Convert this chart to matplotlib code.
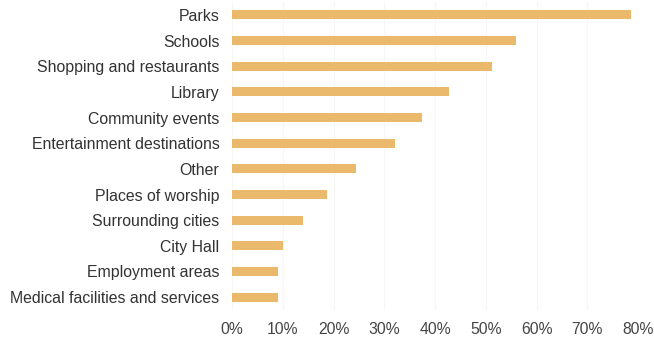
import matplotlib
matplotlib.use("Agg")
import matplotlib.pyplot as plt
from matplotlib.ticker import FuncFormatter

categories = [
    "Parks", "Schools", "Shopping and restaurants", "Library",
    "Community events", "Entertainment destinations", "Other",
    "Places of worship", "Surrounding cities", "City Hall",
    "Employment areas", "Medical facilities and services",
]
shares = [78.7, 55.9, 51.2, 42.7, 37.5, 32.1, 24.4, 18.8, 14.0, 10.0, 9.1, 9.0]
x_ticks = [0, 10, 20, 30, 40, 50, 60, 70, 80]

plt.rcParams["font.family"] = ["Liberation Sans", "DejaVu Sans"]

fig = plt.figure(figsize=(6.54, 3.41), dpi=100)
ax = fig.add_axes([232 / 654, 1 - 310 / 341, (638 - 232) / 654, (310 - 2) / 341])

y = list(range(len(categories)))
ax.barh(y, shares, height=0.34, color="#EBB96B", zorder=2)

ax.set_xlim(0, 80)
ax.set_ylim(len(categories) - 0.5, -0.5)
ax.set_yticks(y)
ax.set_yticklabels(categories, fontsize=11.4, color="#333333")
ax.set_xticks(x_ticks)
ax.xaxis.set_major_formatter(FuncFormatter(lambda v, _: f"{v:.0f}%"))
ax.tick_params(axis="x", labelsize=11.3, colors="#444444", length=0, pad=9)
ax.tick_params(axis="y", length=0, pad=9)

ax.grid(axis="x", color="#F6F6F6", linewidth=0.8, zorder=0)
for s in ax.spines.values():
    s.set_visible(False)

fig.savefig("out.png", dpi=100)
